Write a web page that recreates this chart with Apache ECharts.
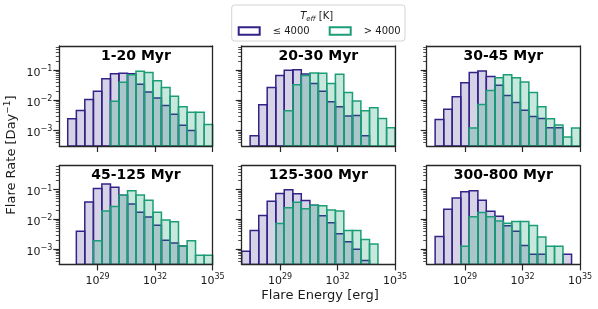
<!DOCTYPE html>
<html><head><meta charset="utf-8">
<script src="https://cdn.jsdelivr.net/npm/echarts@6/dist/echarts.min.js"></script>
<style>html,body{margin:0;padding:0;background:#fff}#c{width:598px;height:309px}</style>
</head><body><div id="c"></div>
<script>
// log10 of bin edges of the flare energy histogram [erg]
const binEdgesExp = [27.00, 27.44, 27.89, 28.33, 28.78, 29.22, 29.67, 30.11, 30.56, 31.00, 31.44, 31.89, 32.33, 32.78, 33.22, 33.67, 34.11, 34.56, 35.00];
const panelTitles = ['1-20 Myr', '20-30 Myr', '30-45 Myr', '45-125 Myr', '125-300 Myr', '300-800 Myr'];
const legendNames = ['\u2264 4000', '> 4000'];
const xTickExp = [29, 32, 35];
const yTickExp = [-3, -2, -1];

// Flare rate [1/day] per bin, Teff <= 4000 K (cool) and > 4000 K (hot)
const cool_1_20    = [null, 0.00245, 0.00457, 0.0107, 0.0200, 0.0525, 0.0776, 0.0794, 0.0776, 0.0347, 0.0191, 0.0120, 0.00676, 0.00347, 0.00148, 0.00100, null, null];
const hot_1_20     = [null, null, null, null, null, null, 0.00933, 0.0398, 0.0708, 0.0933, 0.0851, 0.0447, 0.0269, 0.0138, 0.00617, 0.00398, 0.00398, 0.00158];
const cool_20_30   = [null, 0.000661, 0.00708, 0.0269, 0.0676, 0.100, 0.105, 0.0759, 0.0363, 0.0200, 0.00891, 0.00617, 0.00302, 0.00316, 0.000661, null, null, null];
const hot_20_30    = [null, null, null, null, null, 0.00447, 0.0331, 0.0676, 0.0813, 0.0794, 0.0363, 0.0741, 0.0182, 0.00955, 0.00447, 0.00562, 0.00251, 0.00123];
const cool_30_45   = [null, 0.00229, 0.00501, 0.0132, 0.0389, 0.0851, 0.0955, 0.0617, 0.0316, 0.0145, 0.00851, 0.00468, 0.00288, 0.00251, 0.00123, 0.00123, null, null];
const hot_30_45    = [null, null, null, null, null, 0.00120, 0.00724, 0.0214, 0.0562, 0.0708, 0.0562, 0.0407, 0.0182, 0.00617, 0.00245, 0.00151, 0.000603, 0.00120];
const cool_45_125  = [null, null, 0.00398, 0.0380, 0.110, 0.155, 0.120, 0.0646, 0.0331, 0.0174, 0.0120, 0.00631, 0.00195, 0.00158, 0.00126, null, null, null];
const hot_45_125   = [null, null, null, null, 0.00191, 0.0191, 0.0269, 0.0646, 0.0912, 0.0661, 0.0437, 0.0174, 0.00955, 0.00832, 0.00126, 0.00191, 0.000617, 0.000617];
const cool_125_300 = [0.000832, 0.00417, 0.0135, 0.0407, 0.0741, 0.100, 0.0724, 0.0427, 0.0295, 0.0132, 0.00759, 0.00324, 0.00174, 0.000977, 0.000407, null, null, null];
const hot_125_300  = [null, null, null, null, 0.00724, 0.0245, 0.0372, 0.0229, 0.0295, 0.0288, 0.0204, 0.0191, 0.00417, 0.00417, 0.00209, 0.00148, null, null];
const cool_300_800 = [null, 0.00263, 0.0219, 0.0525, 0.0851, 0.0912, 0.0437, 0.0186, 0.0126, 0.00603, 0.00398, 0.00132, 0.000661, 0.000661, null, null, 0.000661, null];
const hot_300_800  = [null, null, null, null, 0.00123, 0.0123, 0.0170, 0.0123, 0.00871, 0.00741, 0.00851, 0.00851, 0.00617, 0.00251, 0.00123, 0.00123, null, null];

const coolSets = [cool_1_20, cool_20_30, cool_30_45, cool_45_125, cool_125_300, cool_300_800];
const hotSets  = [hot_1_20, hot_20_30, hot_30_45, hot_45_125, hot_125_300, hot_300_800];

const FONT = 'DejaVu Sans';
const INK = '#1a1a1a';
const SPINE = '#262626';
const coolEdge = '#332288', coolFill = 'rgba(51,34,136,0.2)';
const hotEdge = '#1b9e77', hotFill = 'rgba(27,158,119,0.24)';
const X_MIN = 27, X_MAX = 35, Y_MIN = -3.52, Y_MAX = -0.19;

const colLeft = [59.3, 241.7, 426.7];
const rowTop = [46, 165.6];
const PW = 153.3, PH = [100, 98.8];

const minorY = [];
for (let n = -4; n <= 0; n++) for (let k = 2; k <= 9; k++) {
  const v = n + Math.log10(k);
  if (v > Y_MIN && v < Y_MAX) minorY.push(v);
}

const supRich = {
  b: {fontSize: 11, fontFamily: FONT, color: INK, lineHeight: 16},
  s: {fontSize: 8, fontFamily: FONT, color: INK, lineHeight: 8, verticalAlign: 'top'}
};

const grids = [], xAxes = [], yAxes = [], series = [], graphics = [];
const minorX = [], minorYAxes = [];
for (let p = 0; p < 6; p++) {
  const r = Math.floor(p / 3), c = p % 3;
  const g = {left: colLeft[c], top: rowTop[r], width: PW, height: PH[r], containLabel: false};
  grids.push(g);
  const lineStyle = {color: SPINE, width: 1.3};
  xAxes.push({
    gridIndex: p, type: 'value', min: X_MIN, max: X_MAX, position: 'bottom', z: 10,
    axisLine: {show: true, onZero: false, lineStyle},
    axisTick: {show: true, customValues: xTickExp, length: 6, lineStyle: {color: SPINE, width: 1.2}},
    axisLabel: {show: r === 1, customValues: xTickExp, margin: 9,
      formatter: v => '{b|10}{s|' + Math.round(v) + '}', rich: supRich},
    splitLine: {show: false}
  });
  xAxes.push({
    gridIndex: p, type: 'value', min: X_MIN, max: X_MAX, position: 'top', z: 10,
    axisLine: {show: true, onZero: false, lineStyle}, axisTick: {show: false},
    axisLabel: {show: false}, splitLine: {show: false}
  });
  yAxes.push({
    gridIndex: p, type: 'value', min: Y_MIN, max: Y_MAX, position: 'left', z: 10,
    axisLine: {show: true, onZero: false, lineStyle},
    axisTick: {show: true, customValues: yTickExp, length: 6, lineStyle: {color: SPINE, width: 1.2}},
    axisLabel: {show: c === 0, customValues: yTickExp, margin: 7, padding: [6, 0, 0, 0],
      formatter: v => '{b|10}{s|\u2212' + Math.round(Math.abs(v)) + '}', rich: supRich},
    splitLine: {show: false}
  });
  yAxes.push({
    gridIndex: p, type: 'value', min: Y_MIN, max: Y_MAX, position: 'right', z: 10,
    axisLine: {show: true, onZero: false, lineStyle}, axisTick: {show: false},
    axisLabel: {show: false}, splitLine: {show: false}
  });
  // overlay grid carrying the log minor ticks of the y axis
  minorX.push({gridIndex: 6 + p, type: 'value', min: X_MIN, max: X_MAX, show: false});
  minorYAxes.push({
    gridIndex: 6 + p, type: 'value', min: Y_MIN, max: Y_MAX, position: 'left', z: 10,
    axisLine: {show: false}, axisTick: {show: true, customValues: minorY, length: 3.5, lineStyle: {color: SPINE, width: 0.8}},
    axisLabel: {show: false}, splitLine: {show: false}
  });

  [[coolSets[p], coolEdge, coolFill, legendNames[0]], [hotSets[p], hotEdge, hotFill, legendNames[1]]].forEach(([rates, edge, fill, name]) => {
    const data = [];
    rates.forEach((v, i) => { if (v != null) data.push([binEdgesExp[i], binEdgesExp[i + 1], Math.log10(v)]); });
    series.push({
      type: 'custom', name, xAxisIndex: p * 2, yAxisIndex: p * 2, clip: true,
      itemStyle: {color: '#fff', borderColor: edge, borderWidth: 2},
      encode: {x: [0, 1], y: 2},
      data,
      renderItem: (params, api) => {
        const a = api.coord([api.value(0), api.value(2)]);
        const b = api.coord([api.value(1), Y_MIN]);
        return {type: 'rect', shape: {x: a[0], y: a[1], width: b[0] - a[0], height: b[1] - a[1]},
          style: {fill, stroke: edge, lineWidth: 1.5}};
      }
    });
  });

  graphics.push({type: 'text', x: colLeft[c] + PW / 2, y: rowTop[r] + (r === 0 ? 10.5 : 9.5),
    style: {text: panelTitles[p], font: 'bold 14px "DejaVu Sans"', fill: '#000', align: 'center', verticalAlign: 'middle'}, z: 20});
}
for (let p = 0; p < 6; p++) grids.push(Object.assign({}, grids[p]));

graphics.push({type: 'rect', shape: {x: 231.7, y: 5, width: 173.3, height: 36, r: 3},
  style: {fill: '#fff', stroke: '#d4d4d4', lineWidth: 1}, z: 1});
graphics.push({type: 'text', x: 316.7, y: 16, z: 20,
  style: {text: '{t|T}{e|eff}{n| [K]}', align: 'center', verticalAlign: 'middle',
    rich: {t: {fontSize: 10, fontStyle: 'italic', fontFamily: FONT, fill: INK, lineHeight: 13},
           e: {fontSize: 7, fontStyle: 'italic', fontFamily: FONT, fill: INK, lineHeight: 7, verticalAlign: 'bottom'},
           n: {fontSize: 10, fontFamily: FONT, fill: INK, lineHeight: 13}}}});
graphics.push({type: 'text', x: 320, y: 296, z: 20,
  style: {text: 'Flare Energy [erg]', font: '13px "DejaVu Sans"', fill: INK, align: 'center', verticalAlign: 'middle'}});
graphics.push({type: 'text', x: 12, y: 155, rotation: Math.PI / 2, z: 20,
  style: {text: '{n|Flare Rate [Day}{s|\u22121}{n|]}', align: 'center', verticalAlign: 'middle',
    rich: {n: {fontSize: 13, fontFamily: FONT, fill: INK, lineHeight: 18},
           s: {fontSize: 9, fontFamily: FONT, fill: INK, lineHeight: 9, verticalAlign: 'top'}}}});

const chart = echarts.init(document.getElementById('c'), null, {renderer: 'canvas'});
chart.setOption({
  animation: false,
  backgroundColor: '#fff',
  grid: grids, xAxis: xAxes.concat(minorX), yAxis: yAxes.concat(minorYAxes), series,
  legend: {
    left: 237.7, top: 26, padding: 0, itemWidth: 21, itemHeight: 7.5, itemGap: 19, selectedMode: false, z: 10,
    textStyle: {fontSize: 10, fontFamily: FONT, color: INK, padding: [0, 0, 0, 8]},
    data: [
      {name: legendNames[0], icon: 'rect', itemStyle: {color: '#fff', borderColor: coolEdge, borderWidth: 2}},
      {name: legendNames[1], icon: 'rect', itemStyle: {color: '#fff', borderColor: hotEdge, borderWidth: 2}}
    ]
  },
  graphic: {elements: graphics}
});
</script></body></html>
